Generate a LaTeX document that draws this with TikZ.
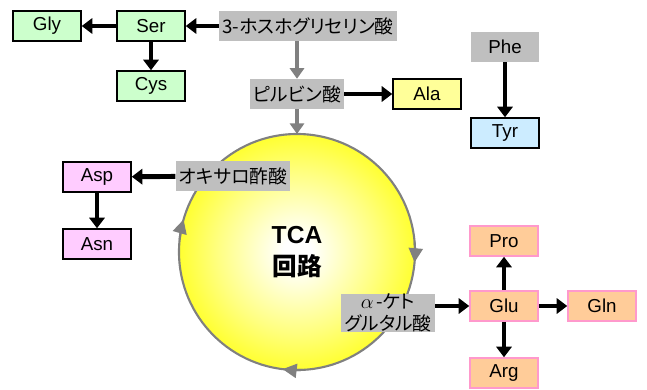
\documentclass[tikz,border=0pt]{standalone}
\usepackage{fontspec}
\setmainfont{Liberation Sans}
\newfontfamily\jp{Noto Sans CJK JP}[RawFeature=+palt]
\usetikzlibrary{arrows.meta,positioning}
\definecolor{sergreen}{HTML}{CCFFCC}
\definecolor{alayellow}{HTML}{FFFF99}
\definecolor{tyrblue}{HTML}{CCECFF}
\definecolor{asppink}{HTML}{FFCCFF}
\definecolor{gluorange}{HTML}{FFCC99}
\definecolor{gluedge}{HTML}{FF99CC}
\definecolor{boxgray}{HTML}{BFBFBF}
\definecolor{cyclegray}{HTML}{808080}
\pgfdeclareradialshading{tcaglow}{\pgfpoint{0bp}{0bp}}{color(0bp)=(white); color(3bp)=(white); color(17bp)=(yellow!50!white); color(30bp)=(yellow); color(50bp)=(yellow)}

\begin{document}
\begin{tikzpicture}[
  x=0.03cm, y=0.03cm,
  abox/.style={rectangle, draw=black, line width=1.3pt, fill=#1, minimum width=2.04cm, minimum height=0.9cm, inner sep=0pt, font=\fontsize{16}{18}\selectfont},
  gbox/.style={rectangle, fill=boxgray, minimum height=0.9cm, inner xsep=0.1cm, inner ysep=0pt, align=center, font=\jp\fontsize{16}{19}\selectfont},
  flow/.style={line width=4.2pt, -{Triangle[length=9pt, width=13pt]}},
  feed/.style={cyclegray, line width=3.4pt, -{Triangle[length=9pt, width=12pt]}},
  cyc/.style={cyclegray, line width=1.8pt, -{Triangle[length=12pt, width=12pt]}}
]
  \useasboundingbox (0,0) rectangle (647,-389);
  \node[circle, draw=cyclegray, line width=1.8pt, shading=tcaglow, minimum size=7.08cm, inner sep=0pt, outer sep=0pt, align=center, font=\bfseries\fontsize{21}{27}\selectfont] (tca) at (297,-252) {TCA\\{\jp 回路}};
  \node[abox=sergreen] (gly) at (47,-26) {Gly};
  \node[abox=sergreen] (ser) at (151,-26) {Ser};
  \node[abox=sergreen] (cys) at (151,-86) {Cys};
  \node[gbox] (pga) at (308,-26) {3-ホスホグリセリン酸};
  \node[gbox] (pyr) at (297,-94) {ピルビン酸};
  \node[abox=alayellow] (ala) at (427,-94) {Ala};
  \node[gbox, minimum width=2.04cm, font=\fontsize{16}{18}\selectfont] (phe) at (505,-47) {Phe};
  \node[abox=tyrblue] (tyr) at (505,-133) {Tyr};
  \node[gbox] (oaa) at (233,-176) {オキサロ酢酸};
  \node[abox=asppink] (asp) at (97,-177) {Asp};
  \node[abox=asppink] (asn) at (97,-244) {Asn};
  \node[gbox] (akg) at (388,-313) {$\alpha$\,-ケト\\グルタル酸};
  \node[abox=gluorange, draw=gluedge] (glu) at (504,-306) {Glu};
  \node[abox=gluorange, draw=gluedge] (pro) at (504,-241) {Pro};
  \node[abox=gluorange, draw=gluedge] (gln) at (602,-306) {Gln};
  \node[abox=gluorange, draw=gluedge] (arg) at (504,-373) {Arg};
  \draw[flow] (ser) -- (gly);
  \draw[flow] (pga) -- (ser);
  \draw[flow] (ser) -- (cys);
  \draw[feed] (pga.south -| pyr.north) -- (pyr.north);
  \draw[flow] (pyr) -- (ala);
  \draw[feed] (pyr) -- (tca.north);
  \draw[flow] (phe) -- (tyr);
  \draw[flow] (oaa) -- (asp);
  \draw[flow] (asp) -- (asn);
  \draw[flow] (akg.east |- glu) -- (glu);
  \draw[flow] (glu) -- (pro);
  \draw[flow] (glu) -- (gln);
  \draw[flow] (glu) -- (arg);
  \draw[cyc] (tca.5) arc[start angle=5, end angle=-5, radius=3.54cm];
  \draw[cyc] (tca.-87) arc[start angle=-87, end angle=-97, radius=3.54cm];
  \draw[cyc] (tca.174) arc[start angle=174, end angle=164, radius=3.54cm];
\end{tikzpicture}
\end{document}
